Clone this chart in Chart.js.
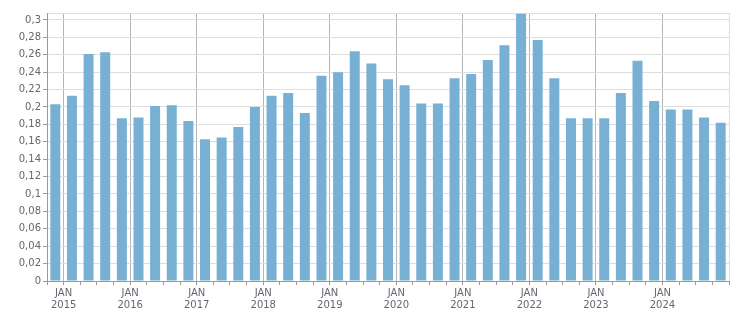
<!DOCTYPE html>
<html lang="en">
<head>
<meta charset="UTF-8">
<title>Quarterly values 2015-2024</title>
<script src="https://cdn.jsdelivr.net/npm/chart.js"></script>
<style>
  html, body { margin: 0; padding: 0; background: #fff; }
  #wrap { width: 751px; height: 313px; }
</style>
</head>
<body>
<div id="wrap"><canvas id="myChart"></canvas></div>
<script>
// one bar per quarter, the first one sits just before JAN 2015
const quarters = [
  '2014 Q4',
  '2015 Q1', '2015 Q2', '2015 Q3', '2015 Q4',
  '2016 Q1', '2016 Q2', '2016 Q3', '2016 Q4',
  '2017 Q1', '2017 Q2', '2017 Q3', '2017 Q4',
  '2018 Q1', '2018 Q2', '2018 Q3', '2018 Q4',
  '2019 Q1', '2019 Q2', '2019 Q3', '2019 Q4',
  '2020 Q1', '2020 Q2', '2020 Q3', '2020 Q4',
  '2021 Q1', '2021 Q2', '2021 Q3', '2021 Q4',
  '2022 Q1', '2022 Q2', '2022 Q3', '2022 Q4',
  '2023 Q1', '2023 Q2', '2023 Q3', '2023 Q4',
  '2024 Q1', '2024 Q2', '2024 Q3', '2024 Q4'
];
const values = [
  0.203,
  0.213, 0.261, 0.263, 0.187,
  0.188, 0.201, 0.202, 0.184,
  0.163, 0.165, 0.177, 0.200,
  0.213, 0.216, 0.193, 0.236,
  0.240, 0.264, 0.250, 0.232,
  0.225, 0.204, 0.204, 0.233,
  0.238, 0.254, 0.271, 0.307,
  0.277, 0.233, 0.187, 0.187,
  0.187, 0.216, 0.253, 0.207,
  0.197, 0.197, 0.188, 0.182
];
const yearLabels = ['2015', '2016', '2017', '2018', '2019', '2020', '2021', '2022', '2023', '2024'];
const monthLabel = 'JAN';
const yTicks = [0, 0.02, 0.04, 0.06, 0.08, 0.1, 0.12, 0.14, 0.16, 0.18, 0.2, 0.22, 0.24, 0.26, 0.28, 0.3];
const yTop = 0.308;

const textColor = '#666670';
const axisColor = '#9a9a9a';
const font = { family: 'DejaVu Sans', size: 10 };

const ctx = document.getElementById('myChart').getContext('2d');

const myChart = new Chart(ctx, {
  type: 'bar',
  data: {
    labels: quarters,
    datasets: [{
      data: values,
      backgroundColor: '#77b0d2',
      borderWidth: 0,
      barPercentage: 0.6,
      categoryPercentage: 1.0,
      xAxisID: 'x',
      yAxisID: 'y'
    }]
  },
  options: {
    responsive: true,
    maintainAspectRatio: false,
    animation: false,
    layout: { padding: { top: 13, right: 22, left: 0, bottom: 0 } },
    plugins: {
      legend: { display: false },
      tooltip: { enabled: false }
    },
    scales: {
      x: {
        type: 'category',
        display: false,
        offset: true,
        grid: { display: false }
      },
      // boundary axis: one step per quarter, year line every 4th step
      xq: {
        type: 'linear',
        position: 'bottom',
        min: 0,
        max: quarters.length,
        offset: false,
        afterFit: (s) => { s.height = 32; },
        border: { color: axisColor },
        grid: {
          offset: false,
          tickLength: 4,
          tickColor: axisColor,
          color: (c) => {
            if (!c.tick) return 'rgba(0,0,0,0)';
            const v = c.tick.value;
            if (v === quarters.length) return '#dedede';
            if (v % 4 === 1) return '#b5b5b5';
            return 'rgba(0,0,0,0)';
          }
        },
        ticks: {
          stepSize: 1,
          autoSkip: false,
          maxRotation: 0,
          minRotation: 0,
          padding: 2,
          color: textColor,
          font: font,
          callback: (v) => {
            if ((v - 1) % 4 !== 0) return '';
            const yr = yearLabels[(v - 1) / 4];
            return yr ? [monthLabel, yr] : '';
          }
        }
      },
      y: {
        min: 0,
        max: yTop,
        afterFit: (s) => { s.width = 47; },
        afterBuildTicks: (s) => {
          s.ticks = yTicks.concat([yTop]).map(v => ({ value: v }));
        },
        border: { color: axisColor },
        grid: {
          color: '#dedede',
          tickLength: 4,
          tickColor: (c) => (c.tick && c.tick.value > 0.3001) ? 'rgba(0,0,0,0)' : axisColor
        },
        ticks: {
          padding: 2,
          color: textColor,
          font: font,
          callback: (v) => {
            if (v > 0.3001) return '';
            return String(v).replace('.', ',');
          }
        }
      }
    }
  }
});
</script>
</body>
</html>
